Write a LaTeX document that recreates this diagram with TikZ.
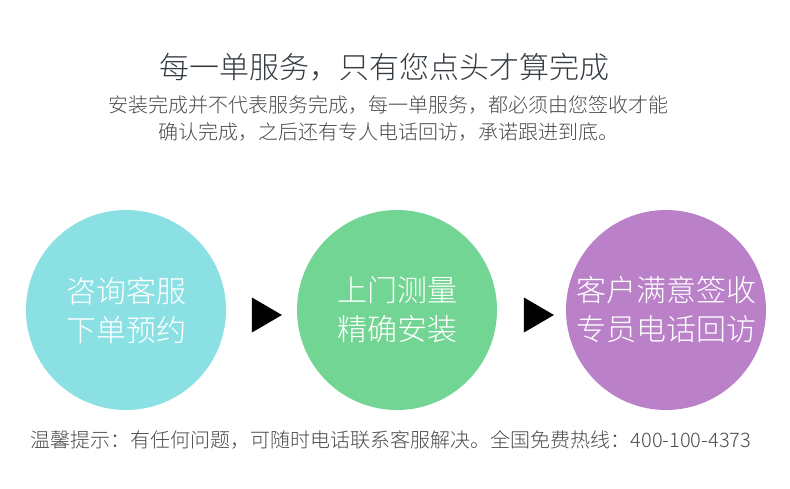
\documentclass[tikz,border=0pt]{standalone}
\usepackage{fontspec}
\setmainfont{Noto Sans CJK SC}[UprightFont=* Light]
\usetikzlibrary{shapes.geometric, positioning, calc}
\definecolor{ballcyan}{HTML}{8BE0E4}
\definecolor{ballgreen}{HTML}{72D593}
\definecolor{ballpurple}{HTML}{BA81C9}
\definecolor{headgrey}{HTML}{353C42}
\definecolor{notegrey}{HTML}{4A4A4A}

\begin{document}
\begin{tikzpicture}[x=1pt, y=-1pt,
  ball/.style={circle, minimum size=200pt, inner sep=0pt, text=white, align=center,
    font=\fontsize{30}{39}\selectfont},
  tip/.style={isosceles triangle, isosceles triangle stretches, fill=black, inner sep=0pt,
    minimum height=30pt, minimum width=35pt}]
  \useasboundingbox (0,0) rectangle (790,489);
  % heading
  \node[text=headgrey, font=\fontsize{30}{36}\selectfont] (title) at (384,67) {每一单服务，只有您点头才算完成};
  \node[text=notegrey, align=center, font=\fontsize{20}{27}\selectfont] (intro) at (388,118)
    {安装完成并不代表服务完成，每一单服务，都必须由您签收才能\\确认完成，之后还有专人电话回访，承诺跟进到底。};
  % steps
  \node[ball, fill=ballcyan]   (s1) at (126,310) {咨询客服\\下单预约};
  \node[ball, fill=ballgreen]  (s2) at (397,310) {上门测量\\精确安装};
  \node[ball, fill=ballpurple] (s3) at (666,310) {客户满意签收\\专员电话回访};
  \node[tip] (t1) at (262,315) {};
  \node[tip] (t2) at (534,315) {};
  % footer
  \node[text=notegrey, font=\fontsize{20}{24}\selectfont] (note) at (391,440)
    {温馨提示：有任何问题，可随时电话联系客服解决。全国免费热线：400-100-4373};
\end{tikzpicture}
\end{document}
